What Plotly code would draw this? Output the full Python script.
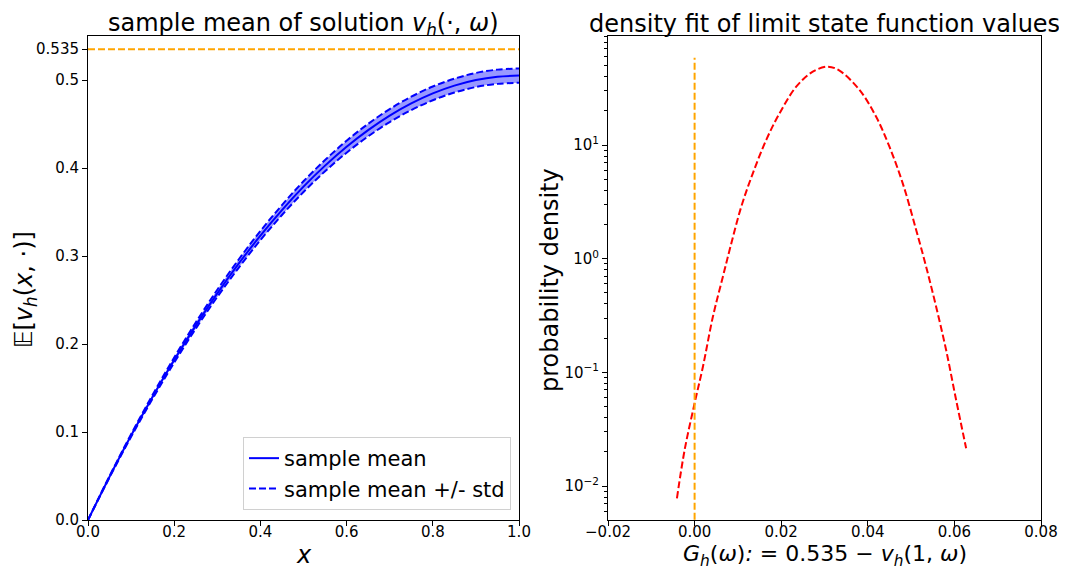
import plotly.graph_objects as go

# ---------------- data ----------------
x_grid = [0.0, 0.05, 0.1, 0.15, 0.2, 0.25, 0.3, 0.35, 0.4, 0.45, 0.5,
          0.55, 0.6, 0.65, 0.7, 0.75, 0.8, 0.85, 0.9, 0.95, 1.0]
mean_vals = [0.0, 0.0492, 0.0960, 0.1401, 0.1818, 0.2209, 0.2576, 0.2916,
             0.3232, 0.3522, 0.3788, 0.4027, 0.4242, 0.4431, 0.4596, 0.4734,
             0.4848, 0.4936, 0.5000, 0.5037, 0.5050]
std_vals = [0.0, 0.0008, 0.0015, 0.0022, 0.0029, 0.0035, 0.0041, 0.0047,
            0.0052, 0.0056, 0.0061, 0.0064, 0.0068, 0.0071, 0.0074, 0.0076,
            0.0078, 0.0079, 0.0080, 0.0081, 0.0081]
threshold = 0.535

g_vals = [-0.00408, -0.00231, 0.0, 0.00192, 0.00422, 0.00653, 0.00847,
          0.01078, 0.01345, 0.01655, 0.01962, 0.02347, 0.0273, 0.03076,
          0.03346, 0.03808, 0.04193, 0.045, 0.04807, 0.05117, 0.05347,
          0.05578, 0.05809, 0.0604, 0.06271]
density_vals = [0.0078, 0.0207, 0.0534, 0.112, 0.308, 0.694, 1.36, 2.87,
                5.64, 11.1, 19.0, 32.6, 44.2, 48.9, 45.1, 30.5, 17.7, 9.66,
                4.60, 1.79, 0.85, 0.378, 0.157, 0.0571, 0.0215]
vline_x = 0.0
vline_bottom = 0.001
vline_top = 58.7

left_xticks = [0.0, 0.2, 0.4, 0.6, 0.8, 1.0]
left_xticktext = ["0.0", "0.2", "0.4", "0.6", "0.8", "1.0"]
left_yticks = [0.0, 0.1, 0.2, 0.3, 0.4, 0.5, 0.535]
left_yticktext = ["0.0", "0.1", "0.2", "0.3", "0.4", "0.5", "0.535"]
right_xticks = [-0.02, 0.0, 0.02, 0.04, 0.06, 0.08]
right_xticktext = ["\u22120.02", "0.00", "0.02", "0.04", "0.06", "0.08"]
right_yticks = [0.01, 0.1, 1, 10]
right_yticktext = ["10<sup>\u22122</sup>", "10<sup>\u22121</sup>",
                   "10<sup>0</sup>", "10<sup>1</sup>"]
minor_yticks = [m * 10.0 ** k for k in range(-3, 2) for m in range(2, 10)]

upper = [m + s for m, s in zip(mean_vals, std_vals)]
lower = [m - s for m, s in zip(mean_vals, std_vals)]

FONT = "DejaVu Sans"
DASH = "7px,3px"

# the page body has an 8px margin, so the figure starts at (8, 8)
OFF = 8
W, H = 1067 - OFF, 570 - OFF


def px(x):
    return (x - OFF) / W


def py(y):
    return 1 - (y - OFF) / H


fig = go.Figure()

# fill band
fig.add_trace(go.Scatter(x=x_grid, y=lower, mode="lines", line=dict(width=0, shape="spline"),
                         showlegend=False, hoverinfo="skip", xaxis="x", yaxis="y"))
fig.add_trace(go.Scatter(x=x_grid, y=upper, mode="lines", line=dict(width=0, shape="spline"),
                         fill="tonexty", fillcolor="rgba(0,0,255,0.4)",
                         showlegend=False, hoverinfo="skip", xaxis="x", yaxis="y"))
# threshold line
fig.add_trace(go.Scatter(x=[0.0, 1.0], y=[threshold, threshold], mode="lines",
                         line=dict(color="orange", width=2, dash=DASH),
                         showlegend=False, xaxis="x", yaxis="y"))
# std lines
fig.add_trace(go.Scatter(x=x_grid, y=upper, mode="lines",
                         line=dict(color="blue", width=2, dash=DASH, shape="spline"),
                         name="sample mean +/- std", legendrank=2, xaxis="x", yaxis="y"))
fig.add_trace(go.Scatter(x=x_grid, y=lower, mode="lines",
                         line=dict(color="blue", width=2, dash=DASH, shape="spline"),
                         showlegend=False, xaxis="x", yaxis="y"))
# mean line
fig.add_trace(go.Scatter(x=x_grid, y=mean_vals, mode="lines",
                         line=dict(color="blue", width=2, shape="spline"),
                         name="sample mean", legendrank=1, xaxis="x", yaxis="y"))

# right panel
fig.add_trace(go.Scatter(x=g_vals, y=density_vals, mode="lines",
                         line=dict(color="red", width=2, dash=DASH, shape="spline"),
                         showlegend=False, xaxis="x2", yaxis="y2"))
fig.add_trace(go.Scatter(x=[vline_x, vline_x], y=[vline_bottom, vline_top], mode="lines",
                         line=dict(color="orange", width=2, dash=DASH),
                         showlegend=False, xaxis="x2", yaxis="y2"))

axis_common = dict(showline=True, mirror=True, linecolor="black", linewidth=1,
                   ticks="outside", ticklen=5, tickcolor="black", tickwidth=1,
                   showgrid=False, zeroline=False, automargin=False,
                   tickfont=dict(family=FONT, size=15, color="black"))

fig.update_layout(
    width=W, height=H,
    margin=dict(l=0, r=0, t=0, b=0, autoexpand=False),
    paper_bgcolor="white", plot_bgcolor="white",
    font=dict(family=FONT, color="black"),
    xaxis=dict(domain=[px(88), px(519)], range=[0, 1], anchor="y",
               tickmode="array", tickvals=left_xticks, ticktext=left_xticktext,
               ticklabelstandoff=-7, **axis_common),
    yaxis=dict(domain=[py(520), py(36)], range=[0, 0.550], anchor="x",
               tickmode="array", tickvals=left_yticks, ticktext=left_yticktext,
               **axis_common),
    xaxis2=dict(domain=[px(608), px(1041)], range=[-0.02, 0.08], anchor="y2",
                tickmode="array", tickvals=right_xticks, ticktext=right_xticktext,
                ticklabelstandoff=-7, **axis_common),
    yaxis2=dict(domain=[py(520), py(36)], type="log", range=[-2.299, 1.959], anchor="x2",
                tickmode="array", tickvals=right_yticks, ticktext=right_yticktext,
                minor=dict(tickmode="array", tickvals=minor_yticks, ticks="outside",
                           ticklen=3, tickcolor="black", showgrid=False),
                **axis_common),
    legend=dict(x=px(511), y=py(510), xanchor="right", yanchor="bottom",
                bgcolor="rgba(255,255,255,0.8)", bordercolor="#d0d0d0", borderwidth=1,
                font=dict(family=FONT, size=21, color="black"),
                traceorder="normal", tracegroupgap=4),
    showlegend=True,
)

annotations = [
    dict(text="sample mean of solution <i>v<sub>h</sub></i>(\u00b7, <i>\u03c9</i>)",
         x=px(303.5), y=py(24), font=dict(size=24)),
    dict(text="density fit of limit state function values",
         x=px(824.5), y=py(24), font=dict(size=24)),
    dict(text="<i>x</i>", x=px(303.5), y=py(555), font=dict(size=24)),
    dict(text="<i>G<sub>h</sub></i>(<i>\u03c9</i>)<i>:</i> = 0.535 \u2212 <i>v<sub>h</sub></i>(1, <i>\u03c9</i>)",
         x=px(824.5), y=py(555), font=dict(size=22)),
    dict(text="\U0001D53C[<i>v<sub>h</sub></i>(<i>x</i>, \u00b7)]",
         x=px(25), y=py(290), textangle=-90, font=dict(size=24)),
    dict(text="probability density",
         x=px(550), y=py(280), textangle=-90, font=dict(size=24)),
]
for a in annotations:
    a.update(xref="paper", yref="paper", showarrow=False,
             xanchor="center", yanchor="middle")
    a["font"].update(family=FONT, color="black")
fig.update_layout(annotations=annotations)

fig.write_html("out.html")
